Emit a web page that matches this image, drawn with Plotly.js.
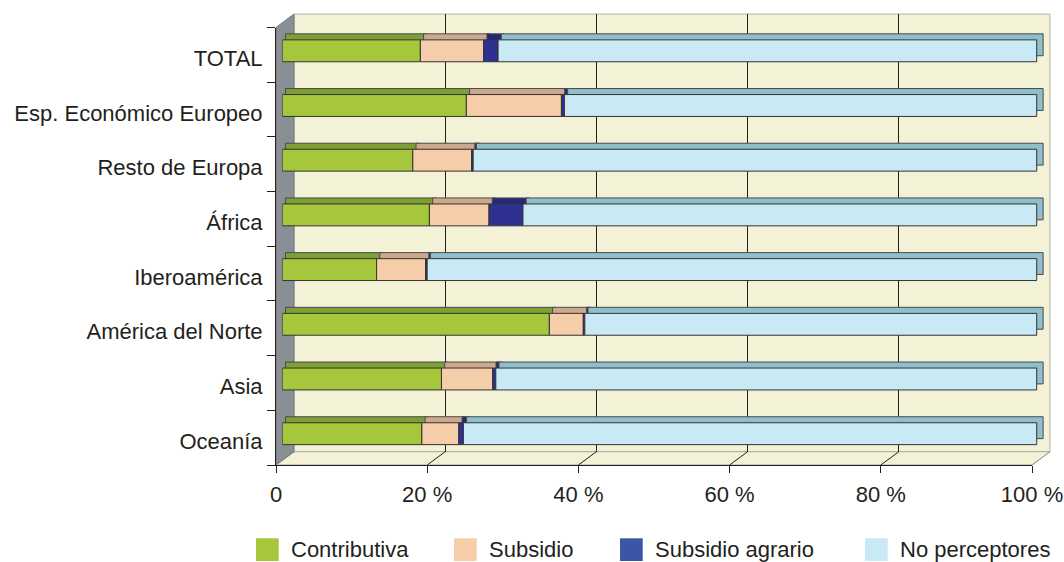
<!DOCTYPE html>
<html><head><meta charset="utf-8">
<script src="https://cdn.plot.ly/plotly-3.0.1.min.js"></script>
<style>html,body{margin:0;padding:0;background:#fff;}#chart{width:1064px;height:562px;}</style>
</head><body><div id="chart"></div>
<script>
// ---- data ----
const categories = ['TOTAL','Esp. Económico Europeo','Resto de Europa','África','Iberoamérica','América del Norte','Asia','Oceanía'];
const contributiva    = [18.3, 24.4, 17.3, 19.5, 12.5, 35.4, 21.1, 18.5];
const subsidio        = [ 8.4, 12.6,  7.8,  7.9,  6.5,  4.5,  6.8,  4.9];
const subsidioAgrario = [ 1.9,  0.4,  0.2,  4.5,  0.2,  0.2,  0.4,  0.6];
const noPerceptores   = [71.4, 62.6, 74.7, 68.1, 80.8, 59.9, 71.7, 76.0];
const seriesNames = ['Contributiva','Subsidio','Subsidio agrario','No perceptores'];
const xTickVals = [0, 20, 40, 60, 80, 100];
const xTickText = ['0', '20 %', '40 %', '60 %', '80 %', '100 %'];

// ---- styling ----
const FONT = 'Liberation Sans, Arial, Helvetica, sans-serif';
const TXT = '#231f20';
const frontColors = ['#A6C63C', '#F5CDA8', '#2E3192', '#C9E9F4'];
const topColors   = ['#7E9F36', '#CCA98C', '#262978', '#8FBFCC'];
const legendColors = ['#A6C63C', '#F5CDA8', '#3A56A5', '#C9E9F4'];

// pixel -> paper helpers (plot area: x 276..1056, y 12..470)
const L = 276, R = 1056, T = 12, B = 470;
const px = x => (x - L) / (R - L);
const py = y => (B - y) / (B - T);

const series = [contributiva, subsidio, subsidioAgrario, noPerceptores];
const DX = 0.85;          // 3D depth along value axis
const traces = [];

// dummy traces so the decorative axes are drawn
traces.push({type:'scatter', x:[], y:[], xaxis:'x', yaxis:'y', showlegend:false, hoverinfo:'skip'});
traces.push({type:'scatter', x:[], y:[], xaxis:'x2', yaxis:'y2', showlegend:false, hoverinfo:'skip'});

// cumulative bases
const bases = [];
let run = categories.map(() => 0);
series.forEach(s => { bases.push(run.slice()); run = run.map((v, i) => v + s[i]); });

// top (depth) faces
series.forEach((s, k) => {
  traces.push({
    type:'bar', orientation:'h', y:categories, x:s.map(v => v + DX / 2),
    base: bases[k].map(b => b + DX / 2),
    width:0.4, offset:-0.31,
    marker:{color:topColors[k], line:{color:'#4a4a4a', width:1}},
    xaxis:'x3', yaxis:'y3', showlegend:false, hoverinfo:'skip'
  });
});
// front faces
series.forEach((s, k) => {
  traces.push({
    type:'bar', orientation:'h', y:categories, x:s, base:bases[k],
    width:0.4, offset:-0.2, name:seriesNames[k],
    marker:{color:frontColors[k], line:{color:'#333333', width:1}},
    xaxis:'x3', yaxis:'y3', showlegend:false
  });
});

// ---- decorative shapes: walls and floor ----
const shapes = [];
const P = (x, y) => px(x).toFixed(5) + ',' + py(y).toFixed(5);
shapes.push({type:'rect', xref:'paper', yref:'paper', layer:'below',
  x0:px(294), x1:px(1050), y0:py(451.7), y1:py(14),
  fillcolor:'#F3F1D6', line:{color:'#B5B5AD', width:1}});
shapes.push({type:'path', xref:'paper', yref:'paper', layer:'below',
  path:'M' + P(276,465) + 'L' + P(1032,465) + 'L' + P(1050,451.7) + 'L' + P(294,451.7) + 'Z',
  fillcolor:'#F3F1D6', line:{color:'#A9A9A2', width:1}});
shapes.push({type:'path', xref:'paper', yref:'paper', layer:'below',
  path:'M' + P(276,27.5) + 'L' + P(294,14) + 'L' + P(294,451.7) + 'L' + P(276,465) + 'Z',
  fillcolor:'#899095', line:{color:'#70777C', width:1}});
xTickVals.forEach(v => {
  if (v === 0) return;
  shapes.push({type:'line', xref:'paper', yref:'paper', layer:'below',
    x0:px(294 + 7.56 * v), y0:py(451.7), x1:px(276 + 7.56 * v), y1:py(465),
    line:{color: v === 100 ? '#9a9a94' : TXT, width:1}});
});

// ---- legend (squares + text) ----
const legendSquareX = [256, 454, 620, 865];
const annotations = [];
seriesNames.forEach((n, k) => {
  shapes.push({type:'rect', xref:'paper', yref:'paper', layer:'above',
    x0:px(legendSquareX[k]), x1:px(legendSquareX[k] + 22.7), y0:py(561), y1:py(538.3),
    fillcolor:legendColors[k], line:{width:0}});
  annotations.push({xref:'paper', yref:'paper', x:px(legendSquareX[k] + 33), y:py(549.5),
    xanchor:'left', yanchor:'middle', showarrow:false, text:n,
    font:{family:FONT, size:22, color:TXT}});
});

const layout = {
  width:1064, height:562,
  margin:{l:L, r:1064 - R, t:T, b:562 - B, pad:0},
  paper_bgcolor:'#ffffff', plot_bgcolor:'rgba(0,0,0,0)',
  font:{family:FONT, size:22, color:TXT},
  barmode:'overlay', showlegend:false,
  // back wall gridlines
  xaxis:{domain:[px(294), px(1050)], range:[0,100], anchor:'y',
    tickmode:'array', tickvals:[20,40,60,80], showticklabels:false, ticks:'',
    showgrid:true, gridcolor:TXT, gridwidth:1, zeroline:false, showline:false, fixedrange:true},
  yaxis:{domain:[py(451.7), py(14)], range:[0,1], anchor:'x',
    showgrid:false, showticklabels:false, zeroline:false, showline:false, ticks:'', fixedrange:true},
  // front axes (ticks and labels)
  xaxis2:{domain:[0, px(1032)], range:[0,100], anchor:'y2',
    tickmode:'array', tickvals:xTickVals, ticktext:xTickText,
    ticks:'outside', ticklen:7, tickcolor:TXT, tickwidth:1,
    showline:true, linecolor:TXT, linewidth:1, showgrid:false, zeroline:false,
    tickfont:{family:FONT, size:22, color:TXT}, ticklabelstandoff:3, fixedrange:true},
  yaxis2:{domain:[py(465), py(27.5)], range:[categories.length, 0], anchor:'x2',
    tickmode:'array', tickvals:categories.map((c, i) => i + 0.56), ticktext:categories,
    ticks:'', showline:true, linecolor:TXT, linewidth:1, showgrid:false, zeroline:false,
    minor:{tickmode:'linear', tick0:0, dtick:1, ticks:'outside', ticklen:8, tickcolor:TXT, tickwidth:1, showgrid:false},
    tickfont:{family:FONT, size:22, color:TXT}, ticklabelstandoff:8, fixedrange:true},
  // bars
  xaxis3:{domain:[px(282.3), px(1051.8)], range:[0,102], anchor:'y3', visible:false, fixedrange:true},
  yaxis3:{domain:[py(461.05), py(23.45)], type:'category', categoryorder:'array', categoryarray:categories,
    range:[categories.length - 0.5, -0.5], anchor:'x3', visible:false, fixedrange:true},
  shapes:shapes, annotations:annotations
};

Plotly.newPlot('chart', traces, layout, {displayModeBar:false, staticPlot:true});
</script>
</body></html>
